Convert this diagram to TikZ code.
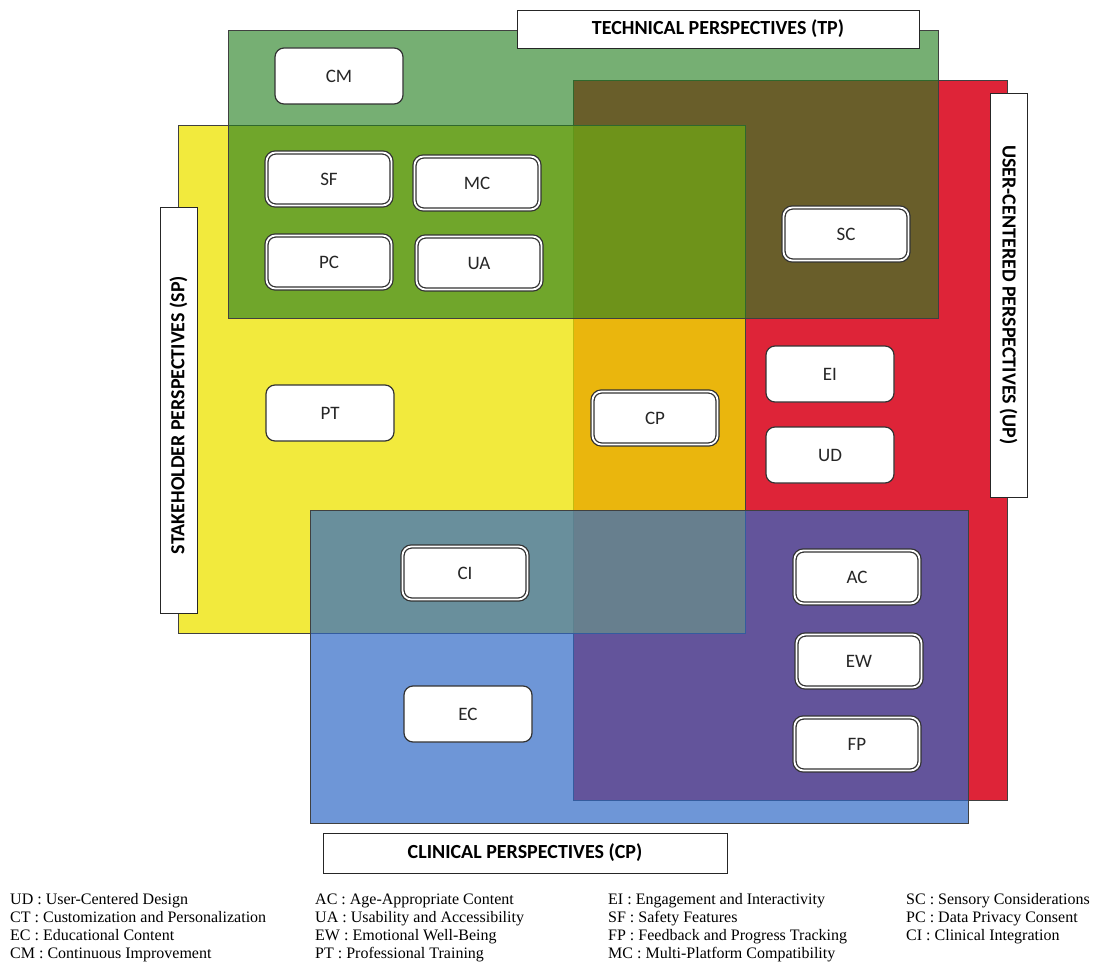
\documentclass[tikz,border=0pt]{standalone}
\usepackage{fontspec}
\setmainfont{Liberation Serif}
\newfontfamily\labelfont{Carlito}
\usepackage{tikz}
\usetikzlibrary{positioning}
\definecolor{upred}{RGB}{222,36,56}
\definecolor{spyellow}{RGB}{238,228,0}
\definecolor{tpgreen}{RGB}{38,128,34}
\definecolor{cpblue}{RGB}{48,105,198}

\begin{document}
\begin{tikzpicture}
               [x=1pt, y=-1pt,
                area/.style = {draw=black!75, line width=0.8pt},
                box/.style = {draw=black!80, line width=1.2pt, fill=white, rounded corners=9pt, minimum width=128pt, minimum height=56pt, text=black!85, font=\labelfont\fontsize{19}{19}\selectfont},
                box2/.style = {box, line width=1.3pt, double=white, double distance=1.8pt, minimum width=125pt, minimum height=53pt},
                title/.style = {draw=black!85, line width=0.8pt, fill=white, inner sep=0pt, font=\labelfont\bfseries\fontsize{20}{20}\selectfont},
                legend/.style = {anchor=base west, inner sep=0pt, font=\fontsize{16}{18}\selectfont}]
                \useasboundingbox (0,0) rectangle (1098,963);
                % Perspective areas
                \draw[area, fill=upred] (573,80) rectangle (1007,800);
                \draw[area, fill=spyellow, fill opacity=0.76] (178,125) rectangle (745,633);
                \draw[area, fill=tpgreen, fill opacity=0.63] (228,30) rectangle (938,318);
                \draw[area, fill=cpblue, fill opacity=0.7] (310,510) rectangle (968,823);
                % Perspective titles
                \node[title, minimum width=402pt, minimum height=38pt] (tp) at (718,29) {TECHNICAL PERSPECTIVES (TP)};
                \node[title, minimum width=406pt, minimum height=37pt, rotate=90] (sp) at (178.5,410) {STAKEHOLDER PERSPECTIVES (SP)\hspace*{10pt}};
                \node[title, minimum width=404pt, minimum height=37pt, rotate=-90] (up) at (1008.5,295) {USER-CENTERED PERSPECTIVES (UP)};
                \node[title, minimum width=404pt, minimum height=40pt] (cp) at (525,853) {CLINICAL PERSPECTIVES (CP)};
                % Technical
                \node[box] (cm) at (339,76) {CM};
                \node[box2] (sf) at (329,179) {SF};
                \node[box2] (mc) at (477,183) {MC};
                \node[box2] (pc) at (329,262) {PC};
                \node[box2] (ua) at (479,263) {UA};
                \node[box2] (sc) at (846,234) {SC};
                % Stakeholder
                \node[box] (pt) at (330,413) {PT};
                \node[box2] (cpx) at (655,418) {CP};
                % User-centered
                \node[box] (ei) at (830,374) {EI};
                \node[box] (ud) at (830,455) {UD};
                \node[box2] (ac) at (857,577) {AC};
                \node[box2] (ew) at (859,661) {EW};
                \node[box2] (fp) at (857,744) {FP};
                % Clinical
                \node[box2] (ci) at (465,573) {CI};
                \node[box] (ec) at (468,714) {EC};
                % Legend
                \node[legend] (lud) at (10,904) {UD : User-Centered Design};
                \node[legend] (lct) at (10,922) {CT : Customization and Personalization};
                \node[legend] (lec) at (10,940) {EC : Educational Content};
                \node[legend] (lcm) at (10,958) {CM : Continuous Improvement};
                \node[legend] (lac) at (315,904) {AC : Age-Appropriate Content};
                \node[legend] (lua) at (315,922) {UA : Usability and Accessibility};
                \node[legend] (lew) at (315,940) {EW : Emotional Well-Being};
                \node[legend] (lpt) at (315,958) {PT : Professional Training};
                \node[legend] (lei) at (608,904) {EI : Engagement and Interactivity};
                \node[legend] (lsf) at (608,922) {SF : Safety Features};
                \node[legend] (lfp) at (608,940) {FP : Feedback and Progress Tracking};
                \node[legend] (lmc) at (608,958) {MC : Multi-Platform Compatibility};
                \node[legend] (lsc) at (906,904) {SC : Sensory Considerations};
                \node[legend] (lpc) at (906,922) {PC : Data Privacy Consent};
                \node[legend] (lci) at (906,940) {CI : Clinical Integration};
\end{tikzpicture}
\end{document}
